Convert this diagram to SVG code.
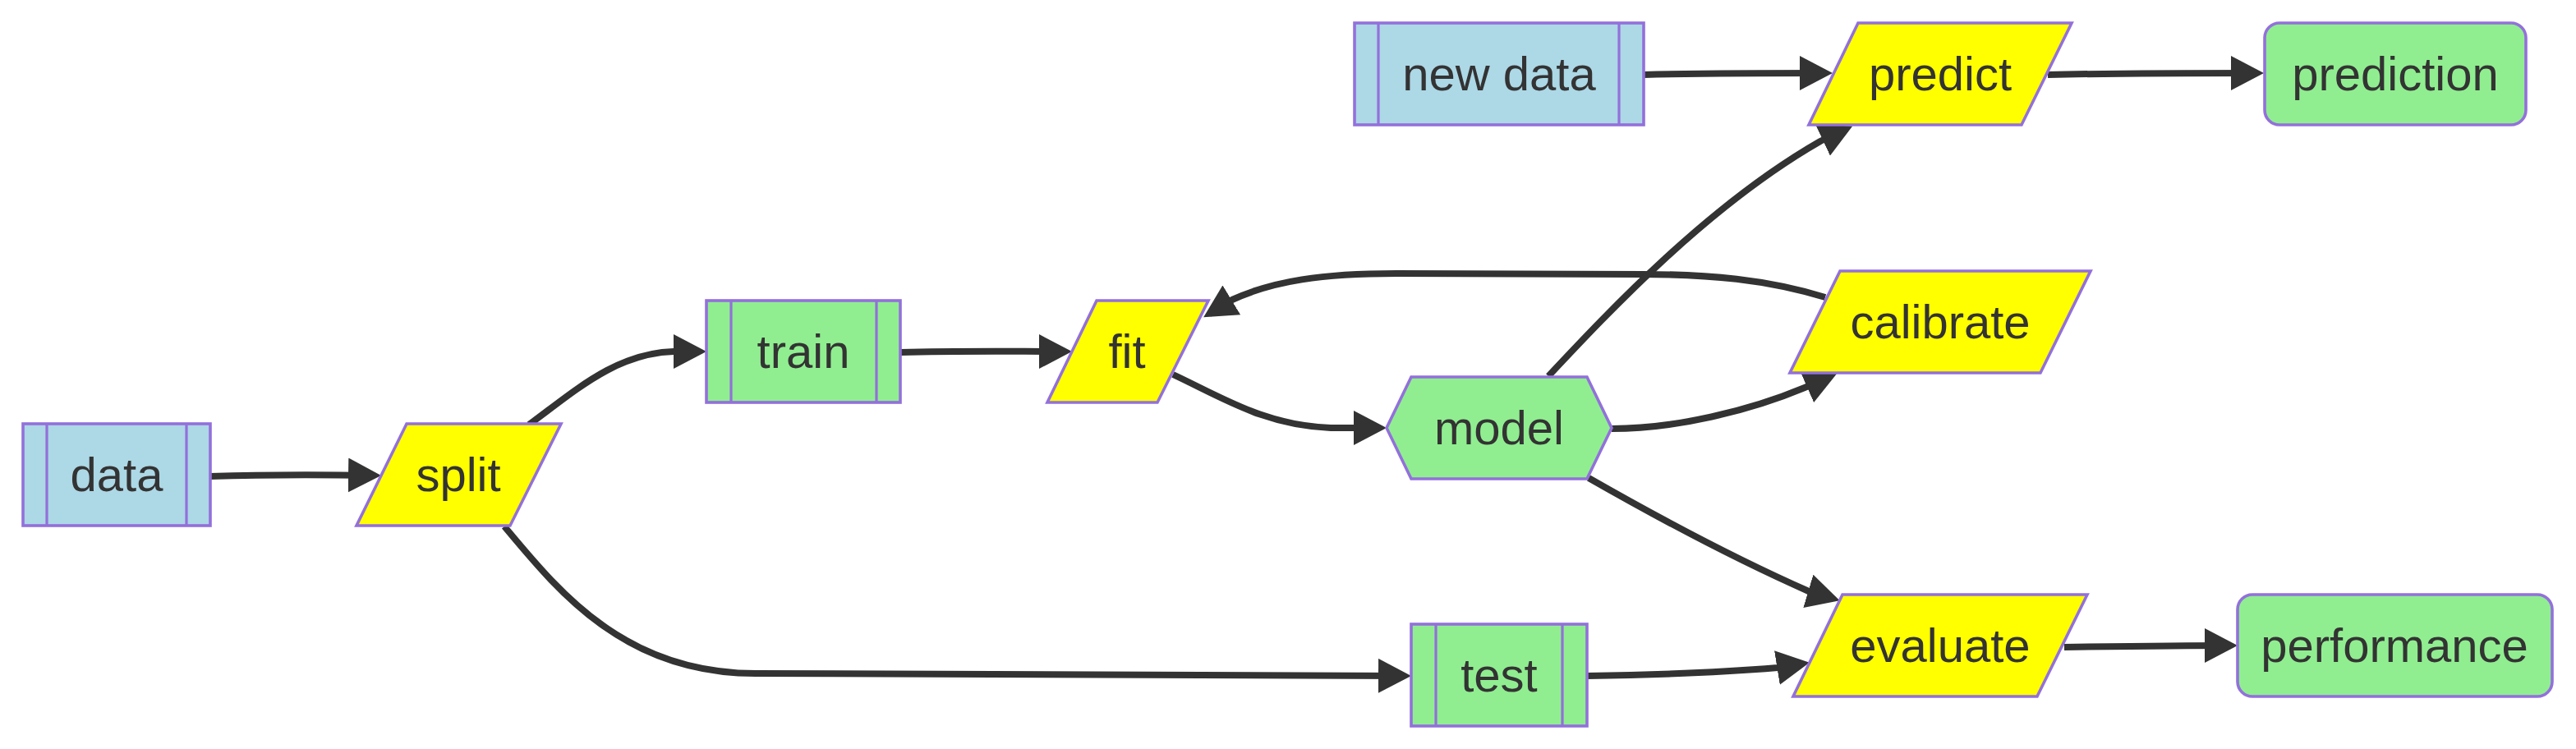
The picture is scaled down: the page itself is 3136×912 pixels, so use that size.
<svg xmlns="http://www.w3.org/2000/svg" width="3136" height="912" viewBox="0 0 3136 912">
<style>
.node{stroke:#9370DB;stroke-width:3.6;}
.blue{fill:#ADD8E6;}
.green{fill:#90EE90;}
.yellow{fill:#FFFF00;}
.inner{stroke:#9370DB;stroke-width:3.2;fill:none;}
.lbl{font-family:"Liberation Sans",Arial,sans-serif;font-size:58px;fill:#333333;text-anchor:middle;}
.edge{fill:none;stroke:#333333;stroke-width:8;marker-end:url(#arr);}
</style>
<defs>
<marker id="arr" markerUnits="userSpaceOnUse" markerWidth="40" markerHeight="42" viewBox="0 0 40 42" refX="32" refY="21" orient="auto">
<path d="M0,0 L40,21 L0,42 z" fill="#333333"/>
</marker>
</defs>
<rect width="3136" height="912" fill="#ffffff"/>
<g id="connectors">
<path class="edge" d="M256,580 C320,578 390,578 456,579"/>
<path class="edge" d="M644,517 C700,476 750,430 820,428 L852,428"/>
<path class="edge" d="M1097,429 C1170,427 1230,428 1297,428"/>
<path class="edge" d="M1428,456 C1490,485 1540,518 1620,521 L1680,521"/>
<path class="edge" d="M1962,522 C2040,522 2130,500 2197,472 L2229,458"/>
<path class="edge" d="M2222,362 C2150,340 2080,334 2000,334 L1700,333 C1610,333 1550,342 1500,365 L1472,382"/>
<path class="edge" d="M1885,458 C1960,378 2080,250 2216,172 L2248,157"/>
<path class="edge" d="M2001,91 C2080,89 2150,89 2223,89"/>
<path class="edge" d="M2493,91 C2580,89 2670,89 2748,89"/>
<path class="edge" d="M1934,582 C1990,614 2100,675 2202,720 L2232,729"/>
<path class="edge" d="M614,641 C680,720 760,820 920,820 L1710,823"/>
<path class="edge" d="M1932,823 C2000,822 2080,820 2164,813 L2195,808"/>
<path class="edge" d="M2513,788 C2580,787 2650,786 2716,786"/>
</g>
<g id="data">
<rect class="node blue" x="28" y="516" width="228" height="124"/>
<line class="inner" x1="57" y1="516" x2="57" y2="640"/>
<line class="inner" x1="227" y1="516" x2="227" y2="640"/>
<text class="lbl" x="142" y="598">data</text>
</g>
<g id="split">
<polygon class="node yellow" points="495,516 683,516 621,640 434,640"/>
<text class="lbl" x="558" y="598">split</text>
</g>
<g id="train">
<rect class="node green" x="860" y="366" width="236" height="124"/>
<line class="inner" x1="890" y1="366" x2="890" y2="490"/>
<line class="inner" x1="1067" y1="366" x2="1067" y2="490"/>
<text class="lbl" x="978" y="448">train</text>
</g>
<g id="fit">
<polygon class="node yellow" points="1335,366 1471,366 1409,490 1275,490"/>
<text class="lbl" x="1372" y="448">fit</text>
</g>
<g id="model">
<polygon class="node green" points="1688,521 1718,459 1932,459 1962,521 1932,583 1718,583"/>
<text class="lbl" x="1825" y="541">model</text>
</g>
<g id="calibrate">
<polygon class="node yellow" points="2240,330 2545,330 2484,454 2179,454"/>
<text class="lbl" x="2362" y="412">calibrate</text>
</g>
<g id="new_data">
<rect class="node blue" x="1649" y="28" width="352" height="124"/>
<line class="inner" x1="1678" y1="28" x2="1678" y2="152"/>
<line class="inner" x1="1971" y1="28" x2="1971" y2="152"/>
<text class="lbl" x="1825" y="110">new data</text>
</g>
<g id="predict">
<polygon class="node yellow" points="2262,28 2522,28 2461,152 2202,152"/>
<text class="lbl" x="2362" y="110">predict</text>
</g>
<g id="prediction">
<rect class="node green" x="2757" y="28" width="318" height="124" rx="18" ry="18"/>
<text class="lbl" x="2916" y="110">prediction</text>
</g>
<g id="test">
<rect class="node green" x="1718" y="760" width="214" height="124"/>
<line class="inner" x1="1748" y1="760" x2="1748" y2="884"/>
<line class="inner" x1="1902" y1="760" x2="1902" y2="884"/>
<text class="lbl" x="1825" y="842">test</text>
</g>
<g id="evaluate">
<polygon class="node yellow" points="2243,724 2541,724 2480,848 2183,848"/>
<text class="lbl" x="2362" y="806">evaluate</text>
</g>
<g id="performance">
<rect class="node green" x="2724" y="724" width="383" height="124" rx="18" ry="18"/>
<text class="lbl" x="2915" y="806">performance</text>
</g>
</svg>
